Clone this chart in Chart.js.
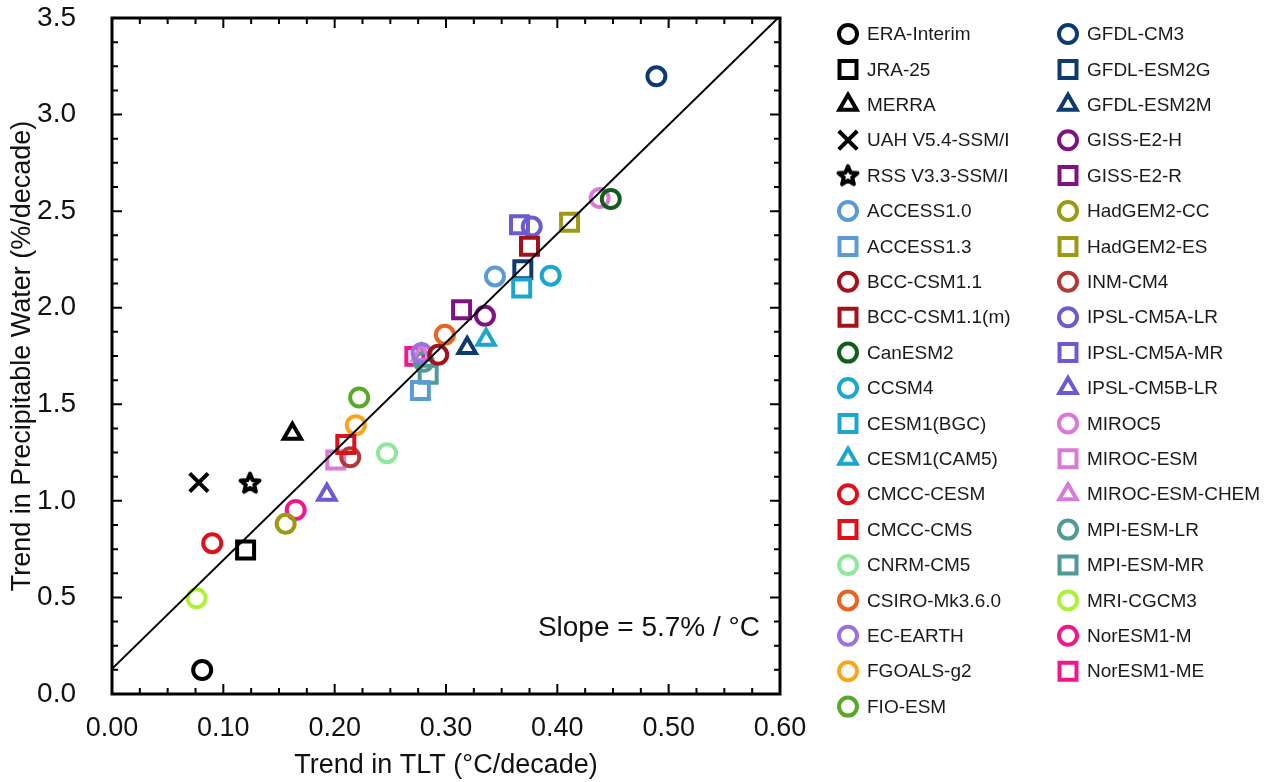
<!DOCTYPE html>
<html lang="en">
<head>
<meta charset="UTF-8">
<title>Trend in Precipitable Water vs TLT</title>
<style>
  body { margin: 0; background: #fff; }
  #wrap { width: 1273px; height: 782px; position: relative; }
</style>
</head>
<body>
<div id="wrap"><canvas id="pwChart"></canvas></div>
<script src="https://cdn.jsdelivr.net/npm/chart.js"></script>
<script>
// datasets: observations/reanalyses first, then CMIP5 models
const modelNames = [
  'ERA-Interim', 'JRA-25', 'MERRA', 'UAH V5.4-SSM/I', 'RSS V3.3-SSM/I',
  'ACCESS1.0', 'ACCESS1.3', 'BCC-CSM1.1', 'BCC-CSM1.1(m)', 'CanESM2',
  'CCSM4', 'CESM1(BGC)', 'CESM1(CAM5)', 'CMCC-CESM', 'CMCC-CMS',
  'CNRM-CM5', 'CSIRO-Mk3.6.0', 'EC-EARTH', 'FGOALS-g2', 'FIO-ESM',
  'GFDL-CM3', 'GFDL-ESM2G', 'GFDL-ESM2M', 'GISS-E2-H', 'GISS-E2-R',
  'HadGEM2-CC', 'HadGEM2-ES', 'INM-CM4', 'IPSL-CM5A-LR', 'IPSL-CM5A-MR',
  'IPSL-CM5B-LR', 'MIROC5', 'MIROC-ESM', 'MIROC-ESM-CHEM', 'MPI-ESM-LR',
  'MPI-ESM-MR', 'MRI-CGCM3', 'NorESM1-M', 'NorESM1-ME'
];

// trend in TLT (degC/decade)
const tltTrend = [
  0.081, 0.120, 0.162, 0.078, 0.124,
  0.344, 0.277, 0.293, 0.375, 0.448,
  0.394, 0.368, 0.336, 0.090, 0.210,
  0.247, 0.299, 0.278, 0.219, 0.222,
  0.489, 0.369, 0.319, 0.335, 0.314,
  0.156, 0.411, 0.214, 0.377, 0.366,
  0.193, 0.438, 0.201, 0.278, 0.280,
  0.284, 0.076, 0.165, 0.272
];

// trend in precipitable water (%/decade)
const pwTrend = [
  0.124, 0.745, 1.347, 1.095, 1.092,
  2.162, 1.571, 1.756, 2.318, 2.563,
  2.166, 2.102, 1.834, 0.781, 1.292,
  1.247, 1.860, 1.765, 1.392, 1.535,
  3.198, 2.197, 1.791, 1.958, 1.990,
  0.881, 2.442, 1.226, 2.420, 2.430,
  1.031, 2.568, 1.212, 1.756, 1.720,
  1.655, 0.496, 0.953, 1.748
];

const markerShapes = [
  'circle', 'rect', 'triangle', 'crossRot', 'star',
  'circle', 'rect', 'circle', 'rect', 'circle',
  'circle', 'rect', 'triangle', 'circle', 'rect',
  'circle', 'circle', 'circle', 'circle', 'circle',
  'circle', 'rect', 'triangle', 'circle', 'rect',
  'circle', 'rect', 'circle', 'circle', 'rect',
  'triangle', 'circle', 'rect', 'triangle', 'circle',
  'rect', 'circle', 'circle', 'rect'
];

const markerColors = [
  '#000000', '#000000', '#000000', '#000000', '#000000',
  '#5b9bd5', '#5b9bd5', '#a3121c', '#a3121c', '#0f5e1a',
  '#1ba6cf', '#1ba6cf', '#1ba6cf', '#e0101a', '#e0101a',
  '#8fe89a', '#e8631e', '#9a72e0', '#f8a51c', '#5aa828',
  '#0d3b70', '#0d3b70', '#0d3b70', '#7e1280', '#7e1280',
  '#9c9a14', '#9c9a14', '#b23a36', '#6a5bd2', '#6a5bd2',
  '#6a5bd2', '#d87ad8', '#d87ad8', '#d87ad8', '#4f9a98',
  '#4f9a98', '#aef03a', '#f0168c', '#f0168c'
];

// least-squares line across the plot
const fitLineX = [0.0, 0.6];
const fitLineY = [0.13, 3.51];

const slopeText = 'Slope = 5.7% / \u00B0C';

const FONT = '"Liberation Sans", Arial, Helvetica, sans-serif';
const STROKE = 4;
const sizeFor = { circle: 9, rect: 12, triangle: 10, crossRot: 13, star: 10 };

// five pointed star marker (Chart.js 'star' is an asterisk)
function makeStar(color) {
  const c = document.createElement('canvas');
  c.width = 28; c.height = 28;
  const g = c.getContext('2d');
  g.strokeStyle = color;
  g.lineWidth = STROKE;
  g.lineJoin = 'round';
  g.beginPath();
  for (let k = 0; k < 10; k++) {
    const r = k % 2 === 0 ? 10 : 4.4;
    const a = -Math.PI / 2 + k * Math.PI / 5;
    const px = 14 + r * Math.cos(a), py = 14.5 + r * Math.sin(a);
    if (k === 0) g.moveTo(px, py); else g.lineTo(px, py);
  }
  g.closePath();
  g.stroke();
  return c;
}

function styleOf(i) {
  return markerShapes[i] === 'star' ? makeStar(markerColors[i]) : markerShapes[i];
}

const datasets = [{
  type: 'line',
  label: 'fit',
  data: fitLineX.map((x, i) => ({ x: x, y: fitLineY[i] })),
  borderColor: '#000',
  borderWidth: 2,
  pointRadius: 0,
  fill: false
}];

modelNames.forEach((name, i) => {
  datasets.push({
    label: name,
    data: [{ x: tltTrend[i], y: pwTrend[i] }],
    pointStyle: styleOf(i),
    pointRadius: sizeFor[markerShapes[i]],
    pointBorderWidth: STROKE,
    borderColor: markerColors[i],
    pointBorderColor: markerColors[i],
    pointBackgroundColor: 'rgba(0,0,0,0)'
  });
});

// frame with inward ticks on all sides + slope note
const frameTicks = {
  id: 'frameTicks',
  afterDatasetsDraw(chart) {
    const { ctx, chartArea: a, scales: { x, y } } = chart;
    ctx.save();
    ctx.strokeStyle = '#000';
    ctx.lineWidth = 2;
    ctx.beginPath();
    for (let i = 0; i <= 24; i++) {
      const px = x.getPixelForValue(i * 0.025);
      const len = i % 4 === 0 ? 10 : 6;
      ctx.moveTo(px, a.bottom); ctx.lineTo(px, a.bottom - len);
      ctx.moveTo(px, a.top); ctx.lineTo(px, a.top + len);
    }
    for (let i = 0; i <= 28; i++) {
      const py = y.getPixelForValue(i * 0.125);
      const len = i % 4 === 0 ? 10 : 6;
      ctx.moveTo(a.left, py); ctx.lineTo(a.left + len, py);
      ctx.moveTo(a.right, py); ctx.lineTo(a.right - len, py);
    }
    ctx.stroke();
    ctx.lineWidth = 3;
    ctx.strokeRect(a.left, a.top, a.width, a.height);

    ctx.fillStyle = '#111';
    ctx.font = '28px ' + FONT;
    ctx.textAlign = 'right';
    ctx.textBaseline = 'middle';
    ctx.fillText(slopeText, a.right - 20, y.getPixelForValue(0.34));
    ctx.restore();
  }
};

// two-column legend to the right of the plot
const sideLegend = {
  id: 'sideLegend',
  afterDraw(chart) {
    const ctx = chart.ctx;
    ctx.save();
    ctx.font = '19px ' + FONT;
    ctx.textBaseline = 'middle';
    ctx.textAlign = 'left';
    modelNames.forEach((name, i) => {
      const col = i < 20 ? 0 : 1;
      const row = col ? i - 20 : i;
      const mx = col ? 1068 : 848;
      const my = 34 + row * 35.4;
      ctx.strokeStyle = markerColors[i];
      ctx.fillStyle = 'rgba(0,0,0,0)';
      ctx.lineWidth = STROKE;
      Chart.helpers.drawPoint(ctx, {
        pointStyle: styleOf(i),
        radius: sizeFor[markerShapes[i]],
        borderWidth: STROKE,
        rotation: 0
      }, mx, my);
      ctx.fillStyle = '#1a1a1a';
      ctx.fillText(name, mx + 19, my + 1);
    });
    ctx.restore();
  }
};

new Chart(document.getElementById('pwChart'), {
  type: 'scatter',
  data: { datasets: datasets },
  options: {
    responsive: true,
    maintainAspectRatio: false,
    animation: false,
    layout: { padding: { left: 0, right: 493, top: 18, bottom: 0 } },
    plugins: { legend: { display: false }, tooltip: { enabled: false } },
    scales: {
      x: {
        type: 'linear',
        min: 0, max: 0.6,
        afterFit: s => { s.height = 88; s.paddingLeft = 0; s.paddingRight = 0; },
        grid: { display: false },
        border: { display: false },
        ticks: {
          stepSize: 0.1, autoSkip: false, padding: 10,
          color: '#111', font: { family: FONT, size: 27 },
          callback: v => v.toFixed(2)
        },
        title: {
          display: true, text: 'Trend in TLT (\u00B0C/decade)',
          color: '#111', font: { family: FONT, size: 27 },
          padding: { top: 0, bottom: 0 }
        }
      },
      y: {
        type: 'linear',
        min: 0, max: 3.5,
        afterFit: s => { s.width = 112; s.paddingTop = 0; s.paddingBottom = 0; },
        grid: { display: false },
        border: { display: false },
        ticks: {
          stepSize: 0.5, padding: 28,
          color: '#111', font: { family: FONT, size: 28 },
          callback: v => v.toFixed(1)
        },
        title: {
          display: true, text: 'Trend in Precipitable Water (%/decade)',
          color: '#111', font: { family: FONT, size: 27 },
          padding: { top: 6, bottom: 0 }
        }
      }
    }
  },
  plugins: [frameTicks, sideLegend]
});
</script>
</body>
</html>
